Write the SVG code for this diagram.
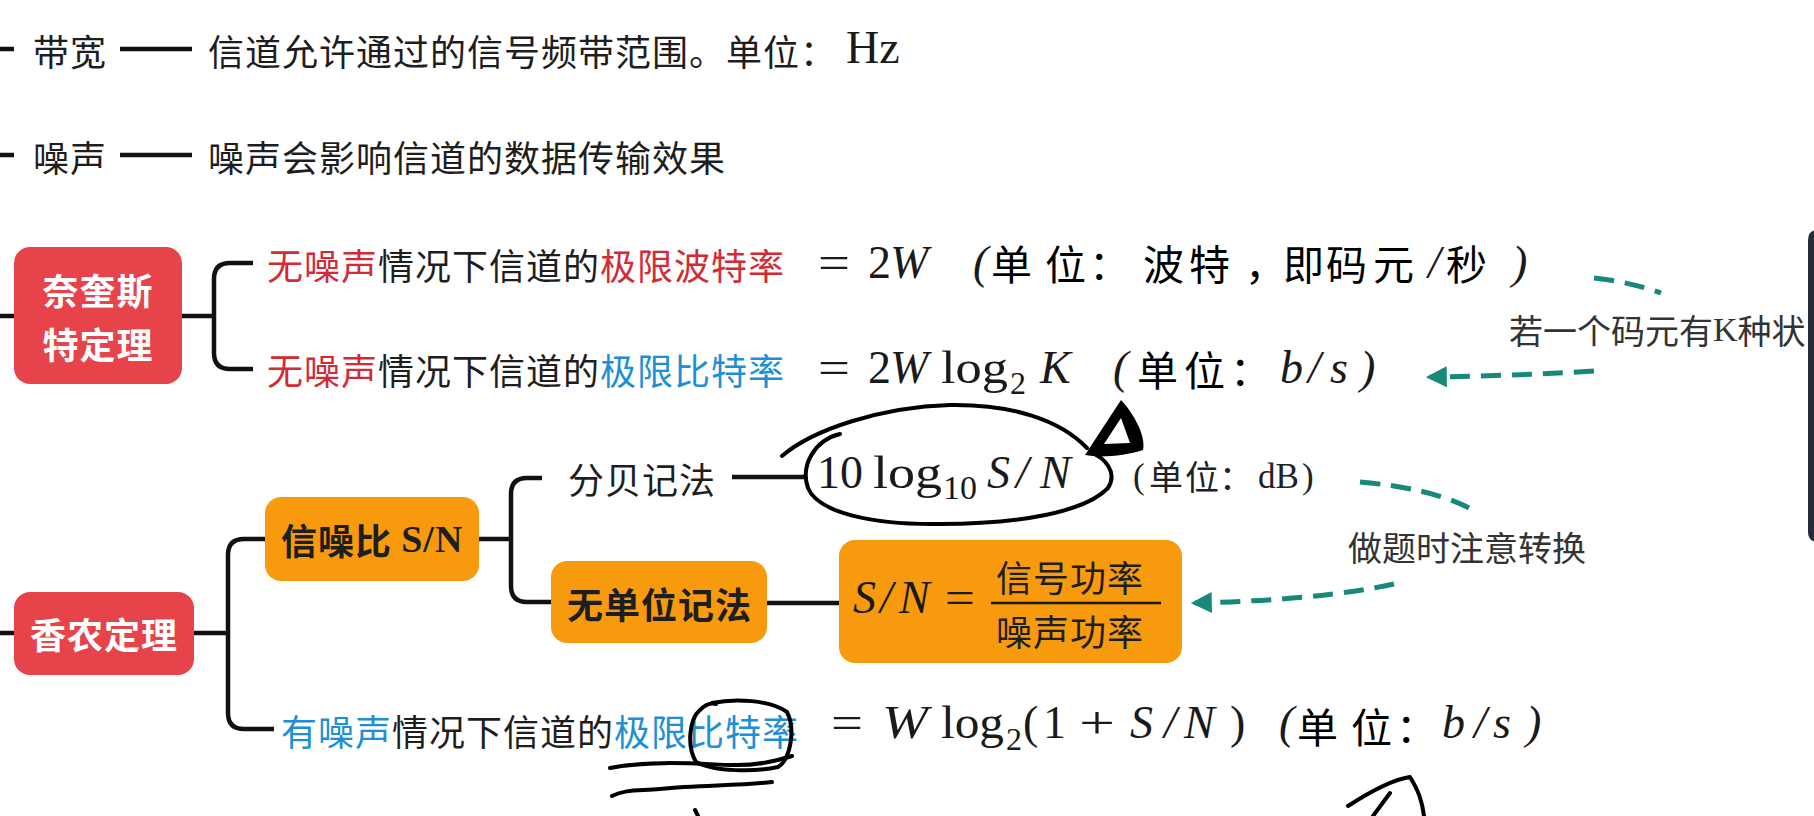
<svg xmlns="http://www.w3.org/2000/svg" width="1814" height="816" viewBox="0 0 1814 816">
<defs>
<style>
.cjk{font-family:"Noto Sans CJK SC",sans-serif;}
.t{font-family:"Noto Sans CJK SC",sans-serif;font-size:36px;letter-spacing:1px;fill:#1e1e1e;dominant-baseline:central;}
.b{font-weight:bold;}
.w{fill:#ffffff;}
.red{fill:#d42a35;}
.blue{fill:#1d8fd5;}
.m{font-family:"Liberation Serif","Noto Sans CJK SC",serif;font-size:46px;fill:#1a1a1a;}
.mc{font-family:"Noto Sans CJK SC",sans-serif;font-size:41px;}
.it{font-style:italic;}
.sub{font-size:32px;}
.ann{font-family:"Noto Sans CJK SC",sans-serif;font-size:34px;fill:#333;dominant-baseline:central;}
.ln{stroke:#111;stroke-width:4.5;fill:none;}
.hand{stroke:#000;stroke-width:4;fill:none;stroke-linecap:round;stroke-linejoin:round;}
.teal{stroke:#17897a;stroke-width:5;fill:none;stroke-dasharray:20 11;}
.rbox{fill:#e6444a;}
.obox{fill:#f79a0e;}
</style>
<marker id="ah" viewBox="0 0 10 10" refX="8" refY="5" markerWidth="4.2" markerHeight="4.2" orient="auto-start-reverse" markerUnits="strokeWidth">
<path d="M0,0 L10,5 L0,10 Z" fill="#17897a"/>
</marker>
</defs>
<rect width="1814" height="816" fill="#ffffff"/>

<!-- right panel edge -->
<path d="M1818,230 L1818,542 Q1808,542 1808,532 L1808,240 Q1808,230 1818,230 Z" fill="#262b38"/>

<!-- connectors -->
<g id="connectors">
<line class="ln" x1="0" y1="49" x2="14" y2="49"/>
<line class="ln" x1="120" y1="49" x2="192" y2="49"/>
<line class="ln" x1="0" y1="155" x2="14" y2="155"/>
<line class="ln" x1="120" y1="155" x2="192" y2="155"/>
<line class="ln" x1="0" y1="316" x2="14" y2="316"/>
<path class="ln" d="M182,316 H214 M253,263 H230 Q214,263 214,279 V353 Q214,369 230,369 H253"/>
<line class="ln" x1="0" y1="633" x2="14" y2="633"/>
<path class="ln" d="M194,633 H228 M265,539 H244 Q228,539 228,555 V713 Q228,729 244,729 H274"/>
<path class="ln" d="M479,539 H511 M542,478 H527 Q511,478 511,494 V586 Q511,602 527,602 H551"/>
<line class="ln" x1="732" y1="477" x2="806" y2="477"/>
<line class="ln" x1="767" y1="603" x2="839" y2="603"/>
<path class="teal" d="M1594,278 Q1630,282 1661,293"/>
<path class="teal" d="M1594,371 Q1510,376 1430,377" marker-end="url(#ah)"/>
<path class="teal" d="M1360,482 Q1430,488 1469,508"/>
<path class="teal" d="M1394,584 Q1320,600 1195,603" marker-end="url(#ah)"/>
</g>

<!-- top rows -->
<g id="bandwidth">
<text class="t" x="33" y="50">带宽</text>
<text class="t" x="208" y="50">信道允许通过的信号频带范围。单位：</text>
<text class="m" x="846" y="63" font-size="36">Hz</text>
</g>
<g id="noise">
<text class="t" x="33" y="156">噪声</text>
<text class="t" x="208" y="156">噪声会影响信道的数据传输效果</text>
</g>

<!-- Nyquist -->
<g id="nyquist">
<rect class="rbox" x="14" y="247" width="168" height="137" rx="16"/>
<text class="t b w" x="98" y="289" text-anchor="middle" letter-spacing="0">奈奎斯</text>
<text class="t b w" x="98" y="343" text-anchor="middle" letter-spacing="0">特定理</text>
</g>
<g id="nyquist-baud">
<text class="t" x="267" y="264"><tspan class="red">无噪声</tspan>情况下信道的<tspan class="red">极限波特率</tspan></text>
<text class="m" x="818" y="278" textLength="32" lengthAdjust="spacingAndGlyphs">=</text>
<text class="m" y="278"><tspan x="868">2</tspan><tspan class="it" x="890">W</tspan><tspan class="it" x="973">(</tspan><tspan class="it" x="1428">/</tspan><tspan class="it" x="1512">)</tspan></text>
<text class="mc" y="280"><tspan x="991">单</tspan><tspan x="1045">位</tspan><tspan x="1089">：</tspan><tspan x="1143">波</tspan><tspan x="1189">特</tspan><tspan x="1245">，</tspan><tspan x="1283">即</tspan><tspan x="1326">码</tspan><tspan x="1373">元</tspan><tspan x="1446">秒</tspan></text>
</g>
<g id="nyquist-bit">
<text class="t" x="267" y="369"><tspan class="red">无噪声</tspan>情况下信道的<tspan class="blue">极限比特率</tspan></text>
<text class="m" x="818" y="383" textLength="32" lengthAdjust="spacingAndGlyphs">=</text>
<text class="m" x="941" y="383" textLength="67" lengthAdjust="spacingAndGlyphs">log</text>
<text class="m" y="383"><tspan x="868">2</tspan><tspan class="it" x="890">W</tspan><tspan class="sub" x="1010" y="394">2</tspan><tspan class="it" x="1040" y="383">K</tspan><tspan class="it" x="1113">(</tspan><tspan class="it" x="1280">b</tspan><tspan class="it" x="1308">/</tspan><tspan class="it" x="1330">s</tspan><tspan class="it" x="1360">)</tspan></text>
<text class="mc" y="386"><tspan x="1137">单</tspan><tspan x="1184">位</tspan><tspan x="1230">：</tspan></text>
</g>
<g id="note-k">
<text class="ann" x="1509" y="329">若一个码元有<tspan font-family="Liberation Serif">K</tspan>种状</text>
</g>

<!-- Shannon -->
<g id="shannon">
<rect class="rbox" x="14" y="592" width="180" height="83" rx="16"/>
<text class="t b w" x="104" y="633" text-anchor="middle" letter-spacing="0">香农定理</text>
</g>
<g id="snr">
<rect class="obox" x="265" y="497" width="214" height="84" rx="16"/>
<text class="t b" x="281" y="539" letter-spacing="0">信噪比 <tspan font-family="Liberation Serif" font-weight="bold" font-size="38">S/N</tspan></text>
</g>
<g id="db">
<text class="t" x="568" y="478" fill="#333">分贝记法</text>
<text class="m" x="873" y="488" font-size="48" textLength="69" lengthAdjust="spacingAndGlyphs">log</text>
<text class="m" y="488" font-size="48"><tspan x="817">10</tspan><tspan x="943" y="499" font-size="34">10</tspan><tspan class="it" x="987" y="488">S</tspan><tspan class="it" x="1016">/</tspan><tspan class="it" x="1040">N</tspan></text>
<text y="488" font-size="35" fill="#222" font-family="Liberation Serif"><tspan x="1133">(</tspan><tspan x="1258">dB</tspan><tspan x="1302">)</tspan></text>
<text class="cjk" y="490" font-size="34" fill="#222"><tspan x="1149">单</tspan><tspan x="1185">位</tspan><tspan x="1219">：</tspan></text>
</g>
<g id="unitless">
<rect class="obox" x="551" y="561" width="216" height="82" rx="16"/>
<text class="t b" x="567" y="603" letter-spacing="0">无单位记法</text>
</g>
<g id="ratio">
<rect class="obox" x="839" y="540" width="343" height="123" rx="16"/>
<text class="m" y="613"><tspan class="it" x="853">S</tspan><tspan class="it" x="880">/</tspan><tspan class="it" x="899">N</tspan></text>
<text class="m" x="945" y="613" textLength="30" lengthAdjust="spacingAndGlyphs">=</text>
<text class="t" x="996" y="576" font-size="36" letter-spacing="3">信号功率</text>
<line x1="991" y1="603" x2="1161" y2="603" stroke="#1a1a1a" stroke-width="2.5"/>
<text class="t" x="996" y="630" font-size="36" letter-spacing="3">噪声功率</text>
</g>
<g id="note-convert">
<text class="ann" x="1348" y="546">做题时注意转换</text>
</g>
<g id="shannon-limit">
<text class="t" x="281" y="730"><tspan class="blue">有噪声</tspan>情况下信道的<tspan class="blue">极限比特率</tspan></text>
<text class="m" x="831" y="738" textLength="32" lengthAdjust="spacingAndGlyphs">=</text>
<text class="m it" x="882" y="738" textLength="46" lengthAdjust="spacingAndGlyphs">W</text>
<text class="m" x="941" y="738" textLength="63" lengthAdjust="spacingAndGlyphs">log</text>
<text class="m" x="1079" y="738" textLength="36" lengthAdjust="spacingAndGlyphs">+</text>
<text class="m" y="738"><tspan class="sub" x="1006" y="750">2</tspan><tspan x="1023" y="738">(</tspan><tspan x="1043">1</tspan><tspan class="it" x="1130">S</tspan><tspan class="it" x="1164">/</tspan><tspan class="it" x="1184">N</tspan><tspan x="1230">)</tspan><tspan class="it" x="1279">(</tspan><tspan class="it" x="1442">b</tspan><tspan class="it" x="1474">/</tspan><tspan class="it" x="1493">s</tspan><tspan class="it" x="1526">)</tspan></text>
<text class="mc" y="743"><tspan x="1297">单</tspan><tspan x="1351">位</tspan><tspan x="1396">：</tspan></text>
</g>

<!-- hand-drawn marks -->
<g id="handwriting">
<path class="hand" d="M782,456 C812,430 880,407 950,405 C1012,404 1060,420 1087,448"/>
<path class="hand" d="M840,434 C815,440 800,465 808,488 C818,512 870,525 940,524 C1020,524 1085,512 1108,488 C1118,472 1105,458 1090,452"/>
<path d="M1085,455 L1121,400 C1134,414 1146,436 1143,450 C1125,456 1100,458 1085,455 Z" fill="#000"/>
<path d="M1104,444 L1121,418 L1130,443 Z" fill="#fff"/>
<path class="hand" d="M712,703 C735,698 770,700 787,712 C796,730 790,760 778,767 C755,772 715,772 696,762 C686,745 690,718 700,710 C706,704 712,703 716,704"/>
<path class="hand" d="M610,768 C650,760 700,764 730,765 C760,766 780,760 792,756"/>
<path class="hand" d="M612,796 C625,789 640,791 660,789 C700,785 740,786 772,782"/>
<path class="hand" d="M695,810 L698,816"/>
<path class="hand" d="M1348,806 C1365,795 1390,780 1410,777 C1418,790 1422,800 1424,816 M1390,793 L1373,816"/>
</g>
</svg>
